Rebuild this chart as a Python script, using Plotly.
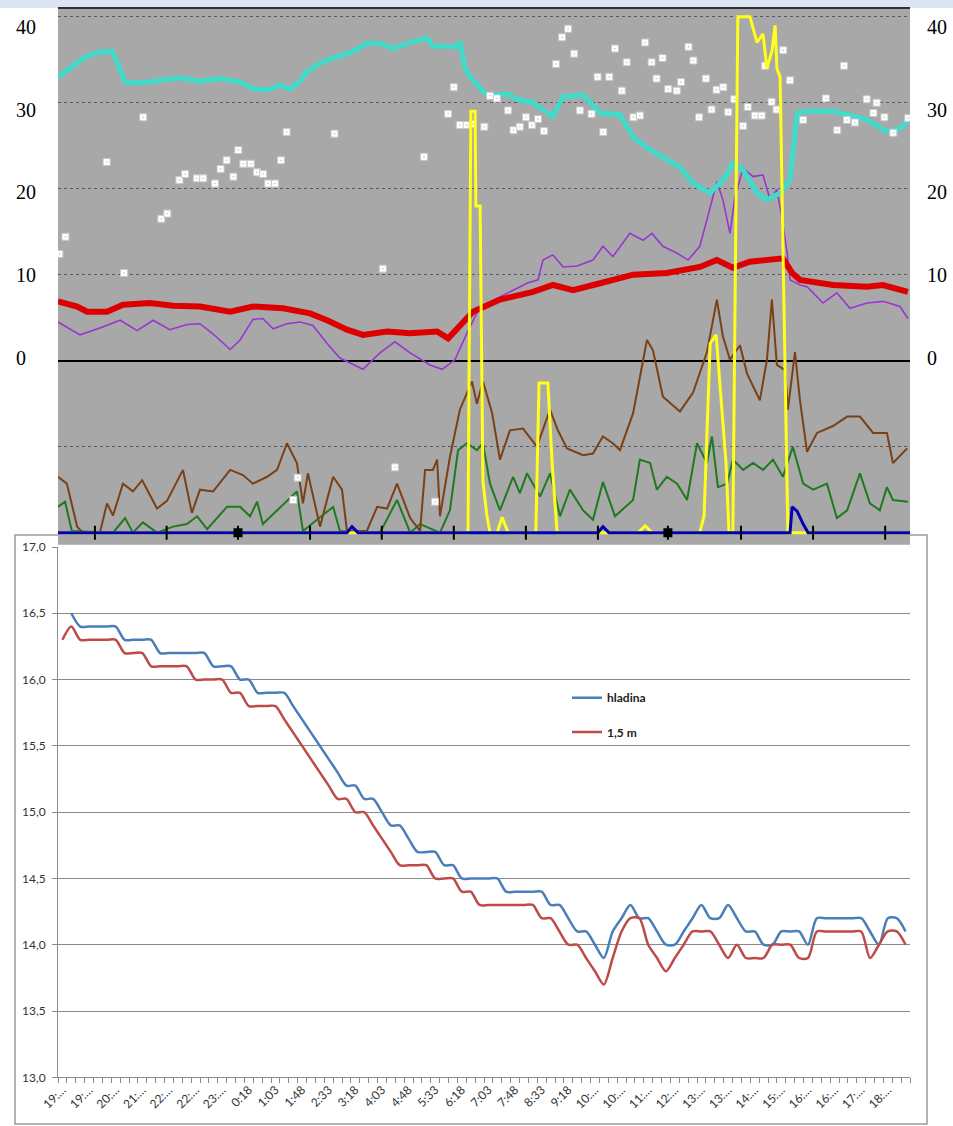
import plotly.graph_objects as go

# ---------------- bottom chart data (15-minute samples) ----------------
sample_idx = list(range(96))
hladina = [None, 16.5, 16.4, 16.4, 16.4, 16.4, 16.4, 16.3, 16.3, 16.3,
           16.3, 16.2, 16.2, 16.2, 16.2, 16.2, 16.2, 16.1, 16.1, 16.1,
           16.0, 16.0, 15.9, 15.9, 15.9, 15.9, 15.8, 15.7, 15.6, 15.5,
           15.4, 15.3, 15.2, 15.2, 15.1, 15.1, 15.0, 14.9, 14.9, 14.8,
           14.7, 14.7, 14.7, 14.6, 14.6, 14.5, 14.5, 14.5, 14.5, 14.5,
           14.4, 14.4, 14.4, 14.4, 14.4, 14.3, 14.3, 14.2, 14.1, 14.1,
           14.0, 13.9, 14.1, 14.2, 14.3, 14.2, 14.2, 14.1, 14.0, 14.0,
           14.1, 14.2, 14.3, 14.2, 14.2, 14.3, 14.2, 14.1, 14.1, 14.0,
           14.0, 14.1, 14.1, 14.1, 14.0, 14.2, 14.2, 14.2, 14.2, 14.2,
           14.2, 14.1, 14.0, 14.2, 14.2, 14.1]
hloubka_15 = [16.3, 16.4, 16.3, 16.3, 16.3, 16.3, 16.3, 16.2, 16.2, 16.2,
              16.1, 16.1, 16.1, 16.1, 16.1, 16.0, 16.0, 16.0, 16.0, 15.9,
              15.9, 15.8, 15.8, 15.8, 15.8, 15.7, 15.6, 15.5, 15.4, 15.3,
              15.2, 15.1, 15.1, 15.0, 15.0, 14.9, 14.8, 14.7, 14.6, 14.6,
              14.6, 14.6, 14.5, 14.5, 14.5, 14.4, 14.4, 14.3, 14.3, 14.3,
              14.3, 14.3, 14.3, 14.3, 14.2, 14.2, 14.1, 14.0, 14.0, 13.9,
              13.8, 13.7, 13.9, 14.1, 14.2, 14.2, 14.0, 13.9, 13.8, 13.9,
              14.0, 14.1, 14.1, 14.1, 14.0, 13.9, 14.0, 13.9, 13.9, 13.9,
              14.0, 14.0, 14.0, 13.9, 13.9, 14.1, 14.1, 14.1, 14.1, 14.1,
              14.1, 13.9, 14.0, 14.1, 14.1, 14.0]
label_idx = list(range(0, 96, 3))
time_labels = ["19:…", "19:…", "20:…", "21:…", "22:…", "22:…", "23:…", "0:18",
               "1:03", "1:48", "2:33", "3:18", "4:03", "4:48", "5:33", "6:18",
               "7:03", "7:48", "8:33", "9:18", "10:…", "10:…", "11:…", "12:…",
               "13:…", "13:…", "14:…", "15:…", "16:…", "16:…", "17:…", "18:…"]

# ---------------- top chart data (hours since 19:00) ----------------
cyan_h = [0, 0.34, 0.76, 1.18, 1.52, 1.69, 1.89, 2.31, 2.87, 3.44, 4.0, 4.56, 5.13, 5.55, 5.89,
          6.25, 6.54, 6.82, 7.01, 7.38, 7.75, 8.23, 8.70, 9.07, 9.44, 10.0, 10.39, 10.56, 11.24,
          11.32, 11.46, 11.61, 12.08, 12.65, 13.01, 13.38, 13.94, 14.23, 14.79, 15.27, 15.83,
          16.2, 16.68, 17.15, 17.52, 17.89, 18.37, 18.73, 19.01, 19.3, 19.69, 19.97, 20.34,
          20.62, 20.82, 21.1, 21.83, 22.23, 22.79, 23.35, 23.72, 24.0]
cyan_v = [33.0, 34.0, 35.3, 35.9, 36.0, 34.5, 32.4, 32.3, 32.6, 32.9, 32.5, 32.8, 32.4, 31.6, 31.5,
          32.0, 31.6, 32.5, 33.6, 34.6, 35.2, 35.8, 36.9, 36.9, 36.3, 37.1, 37.5, 36.6, 36.5,
          37.1, 34.1, 33.0, 30.9, 31.0, 30.3, 30.0, 28.4, 30.7, 30.9, 28.8, 28.6,
          26.0, 24.5, 23.3, 22.5, 20.6, 19.5, 21.0, 22.9, 22.2, 19.5, 18.7, 19.5,
          21.0, 28.8, 29.0, 29.0, 28.6, 28.0, 26.6, 27.0, 28.2]

purple_h = [0, 0.62, 1.18, 1.75, 2.23, 2.68, 3.15, 3.63, 4.0, 4.37, 4.85, 5.13, 5.49, 5.77, 6.06,
            6.45, 6.82, 7.18, 7.58, 7.94, 8.59, 9.07, 9.49, 9.92, 10.48, 10.82, 11.18, 11.52,
            11.89, 12.45, 13.21, 13.52, 13.66, 13.94, 14.23, 14.62, 15.07, 15.35, 15.63, 16.11,
            16.48, 16.73, 17.04, 17.44, 17.75, 18.08, 18.28, 18.56, 18.73, 18.93, 19.07, 19.3,
            19.58, 19.86, 20.06, 20.25, 20.39, 20.54, 20.62, 20.9, 21.1, 21.55, 21.94, 22.31,
            22.79, 23.24, 23.72, 23.94]
purple_v = [4.5, 3.0, 3.8, 4.7, 3.5, 4.7, 3.6, 4.2, 4.3, 3.1, 1.3, 2.4, 4.8, 4.9, 3.7,
            4.3, 4.5, 4.1, 2.0, 0.3, -1.0, 0.9, 2.2, 0.9, -0.5, -1.0, 0.1, 3.2,
            6.3, 7.4, 9.0, 9.4, 11.7, 12.3, 10.9, 11.0, 11.7, 13.3, 12.1, 14.8,
            14.0, 14.8, 13.3, 12.5, 11.7, 13.3, 16.4, 20.8, 18.7, 14.8, 19.1, 22.4,
            21.4, 21.6, 18.7, 19.9, 16.7, 12.5, 9.4, 8.8, 8.6, 6.7, 7.9, 6.1,
            6.7, 6.9, 6.3, 4.9]

red_h = [0, 0.54, 0.82, 1.38, 1.83, 2.59, 3.24, 4.0, 4.85, 5.49, 6.34, 7.1, 7.58, 8.14, 8.59,
         9.27, 9.92, 10.68, 10.99, 11.24, 11.69, 12.45, 13.38, 13.94, 14.51, 15.27, 16.2, 17.15,
         18.08, 18.56, 19.01, 19.49, 20.14, 20.42, 20.68, 20.9, 21.83, 22.79, 23.24, 23.94]
red_v = [6.9, 6.3, 5.7, 5.7, 6.5, 6.7, 6.4, 6.3, 5.7, 6.3, 6.1, 5.5, 4.7, 3.6, 3.0,
         3.4, 3.2, 3.4, 2.6, 3.8, 5.7, 7.1, 8.0, 8.8, 8.2, 9.0, 10.0, 10.2,
         10.9, 11.7, 10.8, 11.5, 11.9, 11.9, 10.2, 9.4, 8.8, 8.6, 8.8, 8.0]

brown_h = [0, 0.25, 0.54, 0.7, 1.18, 1.38, 1.55, 1.83, 2.11, 2.37, 2.79, 3.07, 3.52, 3.77, 4.0,
           4.37, 4.85, 5.21, 5.49, 5.89, 6.17, 6.45, 6.73, 6.9, 7.04, 7.38, 7.75, 8.0, 8.14,
           8.7, 8.99, 9.27, 9.55, 9.92, 10.2, 10.34, 10.56, 10.68, 10.76, 11.04, 11.32, 11.66,
           11.8, 11.97, 12.23, 12.45, 12.73, 13.1, 13.49, 13.86, 14.08, 14.34, 14.79, 15.07,
           15.35, 15.63, 15.83, 16.2, 16.59, 16.76, 17.04, 17.52, 17.89, 18.28, 18.56, 18.73,
           18.93, 19.21, 19.41, 19.77, 19.97, 20.11, 20.25, 20.48, 20.56, 20.76, 20.9, 21.1,
           21.38, 21.83, 22.23, 22.59, 22.96, 23.35, 23.52, 23.92]
brown_v = [-13.5, -14.3, -19.3, -20, -20, -16.6, -18.0, -14.3, -15.2, -13.9, -17.2, -16.3, -12.7,
           -17.7, -15.0, -15.2, -12.7, -13.3, -14.3, -13.5, -12.7, -9.6, -11.9, -16.6, -13.1,
           -19.3, -13.5, -15.0, -19.8, -19.8, -17.0, -17.2, -14.3, -18.3, -19.8, -12.7, -12.7,
           -11.5, -18.1, -11.2, -5.7, -2.4, -5.0, -2.4, -6.1, -11.5, -8.1, -7.9, -10.0, -5.7,
           -8.1, -10.2, -11.0, -10.8, -8.8, -9.6, -10.4, -6.1, 2.4, 1.2, -4.2, -5.9, -3.7, 1.0,
           7.1, 2.8, 0.1, 1.8, -1.5, -4.6, 0.1, 7.1, -0.5, -1.1, -5.7, 1.0, -4.6, -10.6, -8.4,
           -7.6, -6.5, -6.5, -8.4, -8.4, -11.9, -10.2]

green_h = [0, 0.2, 0.39, 1.55, 1.89, 2.11, 2.39, 2.79, 3.24, 3.63, 3.92, 4.2, 4.76, 5.13, 5.41,
           5.61, 5.77, 6.17, 6.45, 6.73, 6.9, 7.75, 7.94, 9.07, 9.55, 9.92, 10.2, 10.76, 11.04,
           11.27, 11.52, 11.8, 11.97, 12.17, 12.45, 12.82, 13.01, 13.21, 13.58, 13.86, 14.14,
           14.42, 14.79, 15.07, 15.35, 15.69, 16.2, 16.39, 16.68, 16.87, 17.15, 17.44, 17.72,
           18.0, 18.28, 18.42, 18.59, 18.85, 19.01, 19.3, 19.58, 19.86, 20.14, 20.42, 20.7,
           20.99, 21.27, 21.66, 21.94, 22.23, 22.59, 22.87, 23.15, 23.35, 23.52, 23.94]
green_v = [-17.0, -16.4, -19.8, -20, -18.3, -20, -18.8, -20, -19.3, -19.0, -18.1, -19.6, -17.0,
           -17.0, -18.1, -16.4, -19.0, -17.4, -16.2, -15.2, -19.8, -17.0, -19.8, -20, -16.2, -20,
           -19.0, -20, -17.4, -10.4, -9.6, -10.4, -9.6, -14.3, -17.4, -13.5, -15.4, -13.1, -15.8,
           -13.1, -18.1, -15.0, -17.4, -18.5, -14.1, -18.1, -16.2, -11.5, -11.9, -15.0, -13.5,
           -14.3, -16.2, -9.6, -11.9, -8.8, -14.7, -14.3, -11.5, -12.7, -11.9, -12.7, -11.5,
           -13.5, -10.0, -14.3, -15.0, -14.3, -18.3, -17.4, -13.1, -16.6, -17.4, -14.7, -16.2,
           -16.4]

yellow_h = [0, 11.55, 11.63, 11.75, 11.77, 11.89, 11.97, 12.08, 12.17, 12.37, 12.51, 12.68, 13.46,
            13.55, 13.80, 13.92, 14.06, 16.34, 16.54, 16.73, 18.08, 18.20, 18.37, 18.54, 18.65,
            18.82, 18.90, 19.01, 19.15, 19.49, 19.69, 19.86, 19.97, 20.11, 20.20, 20.25, 20.34,
            20.45, 20.56, 24]
yellow_v = [-20, -20, 29.0, 29.0, 18.0, 18.0, -14, -18, -20, -20, -18.2, -20, -20,
            -2.6, -2.6, -12, -20, -20, -19.2, -20, -20, -18, 2, 3, -3,
            -12, -20, -20, 40, 40, 37, 38, 34, 36, 39, 34, 33,
            5, -20, -20]

base_h = [0, 8.14, 8.28, 8.45, 15.21, 15.35, 15.52, 20.62, 20.68, 20.82, 20.99, 21.13, 24]
base_v = [-20, -20, -19.3, -20, -20, -19.3, -20, -20, -17.0, -17.5, -19.0, -20, -20]

dots_h = [0.04, 0.21, 1.37, 1.86, 2.40, 2.91, 3.08, 3.42, 3.58, 3.91, 4.09, 4.42, 4.58, 4.75, 4.94,
          5.08, 5.22, 5.43, 5.60, 5.78, 5.92, 6.11, 6.28, 6.44, 7.79, 10.31, 9.15, 11.15, 10.99,
          11.32, 11.51, 11.68, 12.01, 12.17, 12.36, 12.68, 12.83, 13.01, 13.18, 13.35, 13.52,
          13.69, 14.03, 14.20, 14.37, 14.54, 14.70, 15.03, 15.20, 15.53, 15.36, 15.69, 16.02,
          16.54, 16.72, 17.03, 17.76, 17.90, 16.86, 17.55, 18.25, 15.88, 17.19, 17.43, 18.55,
          18.74, 16.21, 16.39, 18.06, 18.41, 18.88, 19.05, 19.43, 19.63, 19.82, 20.10, 20.24,
          19.30, 19.92, 20.43, 20.62, 20.99, 21.63, 22.14, 21.95, 22.22, 22.45, 22.78, 23.06,
          22.97, 23.28, 23.53, 23.95, 6.75, 6.63, 9.49, 10.62]
dots_v = [12.4, 14.4, 23.1, 10.2, 28.3, 16.5, 17.1, 21.0, 21.7, 21.2, 21.2, 20.6, 22.3, 23.3, 21.4,
          24.5, 22.9, 22.9, 21.9, 21.7, 20.6, 20.6, 23.3, 26.6, 26.4, 23.7, 10.7, 31.8, 28.7,
          27.4, 27.4, 27.5, 27.2, 30.8, 30.5, 29.1, 26.8, 27.2, 28.3, 27.4, 28.1,
          26.7, 34.5, 37.6, 38.6, 35.7, 29.1, 28.7, 33.0, 33.0, 26.6, 36.3, 34.7,
          37.0, 34.7, 35.2, 36.5, 34.9, 32.8, 32.4, 32.8, 31.4, 31.6, 31.4, 31.5,
          31.8, 28.3, 28.5, 28.3, 29.2, 28.9, 30.4, 29.5, 28.5, 28.5, 30.1, 29.2,
          27.3, 34.3, 36.1, 32.6, 28.0, 30.5, 34.3, 26.8, 28.0, 27.7, 30.4, 30.0,
          28.8, 28.3, 26.5, 28.2, -13.6, -16.2, -12.4, -16.4]

tick_h = [1.04, 3.06, 5.07, 7.1, 9.12, 11.15, 13.18, 15.21, 17.18, 19.24, 21.27, 23.3]
tick_base = [-20] * len(tick_h)
big_tick_h = [5.07, 17.18]
big_tick_base = [-20, -20]
top_labels = [0, 10, 20, 30, 40]

# ---------------- figure ----------------
W, H = 953, 1126
XD = [58 / W, 910 / W]
TOP_D = [1 - 544.7 / H, 1 - 8.1 / H]
BOT_D = [1 - 1077.3 / H, 1 - 547 / H]

fig = go.Figure()

def top_line(x, y, color, width, name):
    fig.add_trace(go.Scatter(x=x, y=y, mode="lines", line=dict(color=color, width=width),
                             xaxis="x", yaxis="y", showlegend=False, hoverinfo="skip", name=name))

top_line(green_h, green_v, "#1f7a1f", 2, "green")
top_line(brown_h, brown_v, "#7a4016", 2, "brown")
top_line(purple_h, purple_v, "#9a35d0", 1.6, "purple")
top_line(red_h, red_v, "#dd0000", 6, "red")
top_line(cyan_h, cyan_v, "#3fdccc", 5, "cyan")
fig.add_trace(go.Scatter(x=dots_h, y=dots_v, mode="markers", xaxis="x", yaxis="y",
                         marker=dict(symbol="square-dot", size=7, color="white",
                                     line=dict(color="#c8c8c8", width=1)),
                         showlegend=False, hoverinfo="skip"))
top_line(yellow_h, yellow_v, "#ffff1a", 3, "yellow")
top_line(base_h, base_v, "#0000b4", 3, "blue")
fig.add_trace(go.Scatter(x=tick_h, y=tick_base, mode="markers", xaxis="x", yaxis="y",
                         marker=dict(symbol="line-ns", size=10, line=dict(color="black", width=2)),
                         showlegend=False, hoverinfo="skip"))
fig.add_trace(go.Scatter(x=big_tick_h, y=big_tick_base, mode="markers", xaxis="x", yaxis="y",
                         marker=dict(symbol="square", size=9, color="black"),
                         showlegend=False, hoverinfo="skip"))
# carriers for the label axes
fig.add_trace(go.Scatter(x=[], y=[], xaxis="x", yaxis="y2", showlegend=False, hoverinfo="skip"))
fig.add_trace(go.Scatter(x=[], y=[], xaxis="x", yaxis="y4", showlegend=False, hoverinfo="skip"))

# bottom chart
fig.add_trace(go.Scatter(x=sample_idx, y=hladina, mode="lines", name="hladina",
                         line=dict(color="#4a7ebb", width=2.5, shape="spline", smoothing=0.8),
                         xaxis="x2", yaxis="y3", legend="legend", hoverinfo="skip"))
fig.add_trace(go.Scatter(x=sample_idx, y=hloubka_15, mode="lines", name="1,5 m",
                         line=dict(color="#be4b48", width=2.5, shape="spline", smoothing=0.8),
                         xaxis="x2", yaxis="y3", legend="legend2", hoverinfo="skip"))

label_font = dict(family="Liberation Serif", size=20, color="black")
lab_range = [-22.6, 42.3]

fig.update_layout(
    template="none",
    width=W, height=H, autosize=False,
    margin=dict(l=0, r=0, t=0, b=0, pad=0),
    paper_bgcolor="white", plot_bgcolor="white",
    separators=", ",
    font=dict(family="Lato", size=12, color="#333"),
    xaxis=dict(domain=XD, range=[0, 24], visible=False, anchor="y", automargin=False),
    yaxis=dict(domain=TOP_D, range=[-21.4, 41], anchor="x", automargin=False,
               tickvals=[-10, 10, 20, 30, 40], showticklabels=False, ticks="",
               showgrid=True, gridcolor="#58586a", gridwidth=1, griddash="3px,3px",
               zeroline=True, zerolinecolor="black", zerolinewidth=2, showline=False),
    yaxis2=dict(overlaying="y", side="right", anchor="free", position=15 / W, automargin=False,
                range=lab_range, tickvals=top_labels, tickfont=label_font,
                showgrid=False, zeroline=False, ticks="", showline=False),
    yaxis4=dict(overlaying="y", side="right", anchor="free", position=926 / W, automargin=False,
                range=lab_range, tickvals=top_labels, tickfont=label_font,
                showgrid=False, zeroline=False, ticks="", showline=False),
    xaxis2=dict(domain=XD, range=[-0.5, 95.5], anchor="y3", automargin=False,
                tickmode="array", tickvals=label_idx, ticktext=time_labels,
                tickangle=-45, ticks="", tickfont=dict(family="Lato", size=12, color="#333"),
                showgrid=False, zeroline=False, showline=True, linecolor="#8a8a8a", linewidth=1,
                minor=dict(ticks="outside", tick0=-0.5, dtick=1, ticklen=5,
                           tickcolor="#8a8a8a", tickwidth=1, showgrid=False)),
    yaxis3=dict(domain=BOT_D, range=[13, 17], anchor="x2", dtick=0.5, tickformat=".1f",
                automargin=False,
                tickfont=dict(family="Lato", size=12, color="#333"),
                showgrid=True, gridcolor="#8a8a8a", gridwidth=1,
                zeroline=False, showline=True, linecolor="#8a8a8a", linewidth=1,
                ticks="outside", ticklen=5, tickcolor="#8a8a8a", ticklabelstandoff=4),
    legend=dict(x=567 / W, y=1 - 697.7 / H, xanchor="left", yanchor="middle",
                bgcolor="rgba(0,0,0,0)", itemwidth=30, borderwidth=0,
                font=dict(family="Lato", size=12, color="#222", weight="bold")),
    legend2=dict(x=567 / W, y=1 - 732 / H, xanchor="left", yanchor="middle",
                 bgcolor="rgba(0,0,0,0)", itemwidth=30, borderwidth=0,
                 font=dict(family="Lato", size=12, color="#222", weight="bold")),
    shapes=[
        dict(type="rect", xref="paper", yref="paper", x0=0, x1=1, y0=1 - 8 / H, y1=1,
             fillcolor="#dbe6f2", line=dict(width=0), layer="below"),
        dict(type="rect", xref="paper", yref="paper", x0=15 / W, x1=927 / W,
             y0=1 - 1124 / H, y1=1 - 535 / H, fillcolor="rgba(0,0,0,0)",
             line=dict(color="#9a9a9a", width=1.5), layer="below"),
        dict(type="rect", xref="x domain", yref="y domain", x0=0, x1=1, y0=0, y1=1,
             fillcolor="#a8a8a8", line=dict(width=0), layer="below"),
        dict(type="line", xref="x domain", yref="y domain", x0=0, x1=1, y0=1, y1=1,
             line=dict(color="#303030", width=2), layer="above"),
    ],
)

fig.write_html("out.html", config={"displayModeBar": False},
               post_script="document.body.style.margin='0';document.body.style.overflow='hidden';")
